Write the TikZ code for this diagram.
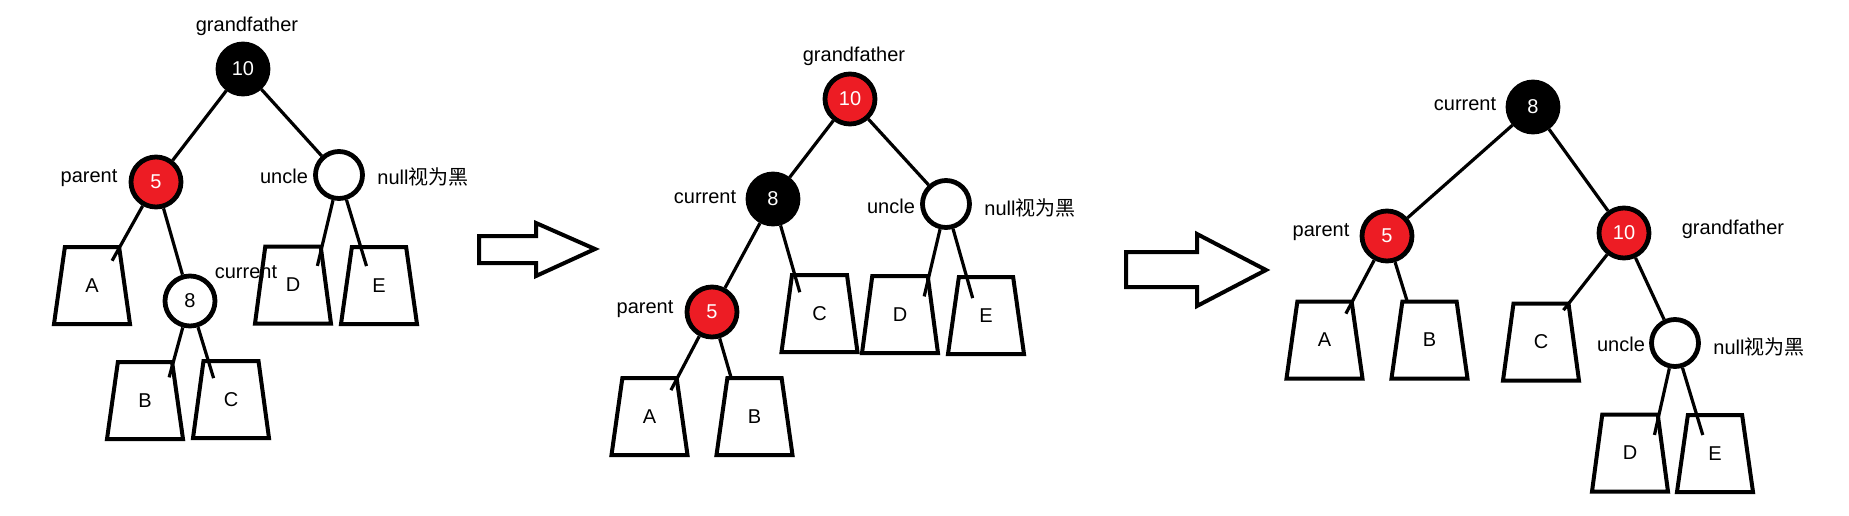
\documentclass[tikz,border=0pt]{standalone}
\usepackage{fontspec}
\setmainfont{Liberation Sans}
\newfontfamily\cjk{Noto Sans CJK SC}
\usepackage{tikz}
\usetikzlibrary{shapes.geometric}
\definecolor{nodered}{RGB}{237,28,36}

\begin{document}
\begin{tikzpicture}[x=0.5pt, y=-0.5pt, font=\fontsize{10}{12}\selectfont,
    rbnode/.style={circle, draw=black, line width=2.4pt, minimum size=25pt, inner sep=0pt},
    blacknode/.style={rbnode, fill=black, text=white},
    rednode/.style={rbnode, fill=nodered, text=white},
    whitenode/.style={rbnode, fill=white},
    nilnode/.style={rbnode, fill=white, minimum size=23.5pt},
    subtree/.style={trapezium, draw, line width=2pt, trapezium angle=79,
      trapezium stretches=true, minimum width=38pt, minimum height=38.5pt, inner sep=0pt},
    edge/.style={line width=1.6pt},
    lbl/.style={inner sep=0pt}]
            \useasboundingbox (0,0) rectangle (1849,515);
            % First tree: current is the right child of parent
            \node[blacknode] (gf1) at (243,69) {10};
            \node[rednode] (par1) at (156,182) {5};
            \node[nilnode] (unc1) at (339,175) {};
            \node[whitenode] (cur1) at (190,301) {8};
            \node[subtree] (sA1) at (92,285.5) {A};
            \node[subtree] (sB1) at (145,400.5) {B};
            \node[subtree] (sC1) at (231,399.5) {C};
            \node[subtree] (sD1) at (293,285) {D};
            \node[subtree] (sE1) at (379,285.5) {E};
            \node[lbl] (gf1lab) at (247,26) {grandfather};
            \node[lbl] (par1lab) at (89,178) {parent};
            \node[lbl] (unc1lab) at (284,176) {uncle};
            \node[lbl] (nil1lab) at (423,177) {null{\cjk 视为黑}};
            \node[lbl] (cur1lab) at (246,272) {current};
            \draw[edge] (gf1) -- (par1);
            \draw[edge] (gf1) -- (unc1);
            \draw[edge] (par1) -- (cur1);
            \draw[edge, shorten >=-9pt] (par1) -- (sA1.top right corner);
            \draw[edge, shorten >=-9pt] (cur1) -- (sB1.top right corner);
            \draw[edge, shorten >=-10pt] (cur1) -- ([xshift=3pt]sC1.top left corner);
            \draw[edge, shorten >=-11pt] (unc1) -- (sD1.top right corner);
            \draw[edge, shorten >=-11pt] (unc1) -- ([xshift=5pt]sE1.top left corner);
            % First arrow
            \draw[line width=2pt] (479,236) -- (536,236) -- (536,223) -- (595,249)
              -- (536,276) -- (536,263) -- (479,263) -- cycle;
            % Second tree: after rotating left at parent
            \node[rednode] (gf2) at (850,99) {10};
            \node[blacknode] (cur2) at (773,199) {8};
            \node[nilnode] (unc2) at (946,204) {};
            \node[rednode] (par2) at (712,312) {5};
            \node[subtree] (sA2) at (649.5,416.5) {A};
            \node[subtree] (sB2) at (754.5,416.5) {B};
            \node[subtree] (sC2) at (819.5,313.5) {C};
            \node[subtree] (sD2) at (900,314.5) {D};
            \node[subtree] (sE2) at (986,315.5) {E};
            \node[lbl] (gf2lab) at (854,56) {grandfather};
            \node[lbl] (cur2lab) at (705,197) {current};
            \node[lbl] (unc2lab) at (891,206) {uncle};
            \node[lbl] (nil2lab) at (1030,208) {null{\cjk 视为黑}};
            \node[lbl] (par2lab) at (645,309) {parent};
            \draw[edge] (gf2) -- (cur2);
            \draw[edge] (gf2) -- (unc2);
            \draw[edge] (cur2) -- (par2);
            \draw[edge, shorten >=-8pt] (par2) -- (sA2.top right corner);
            \draw[edge, shorten >=-1pt] (par2) -- ([xshift=2.5pt]sB2.top left corner);
            \draw[edge, shorten >=-10pt] (cur2) -- ([xshift=2pt]sC2.top left corner);
            \draw[edge, shorten >=-11.5pt] (unc2) -- (sD2.top right corner);
            \draw[edge, shorten >=-12pt] (unc2) -- ([xshift=4.5pt]sE2.top left corner);
            % Second arrow
            \draw[line width=2pt] (1126,252) -- (1197,252) -- (1197,234) -- (1266,270)
              -- (1197,306) -- (1197,287) -- (1126,287) -- cycle;
            % Third tree: after rotating right at grandfather
            \node[blacknode] (cur3) at (1533,107) {8};
            \node[rednode] (par3) at (1387,236) {5};
            \node[rednode] (gf3) at (1624,233) {10};
            \node[nilnode] (unc3) at (1675,343) {};
            \node[subtree] (sA3) at (1324.5,340) {A};
            \node[subtree] (sB3) at (1429.5,340) {B};
            \node[subtree] (sC3) at (1541,342) {C};
            \node[subtree] (sD3) at (1630,453) {D};
            \node[subtree] (sE3) at (1715,453.5) {E};
            \node[lbl] (cur3lab) at (1465,104) {current};
            \node[lbl] (par3lab) at (1321,232) {parent};
            \node[lbl] (gf3lab) at (1733,229) {grandfather};
            \node[lbl] (unc3lab) at (1621,344) {uncle};
            \node[lbl] (nil3lab) at (1759,347) {null{\cjk 视为黑}};
            \draw[edge] (cur3) -- (par3);
            \draw[edge] (cur3) -- (gf3);
            \draw[edge] (gf3) -- (unc3);
            \draw[edge, shorten >=-8pt] (par3) -- (sA3.top right corner);
            \draw[edge, shorten >=-1pt] (par3) -- ([xshift=3pt]sB3.top left corner);
            \draw[edge, shorten >=-5.5pt] (gf3) -- (sC3.top right corner);
            \draw[edge, shorten >=-11.5pt] (unc3) -- (sD3.top right corner);
            \draw[edge, shorten >=-11.5pt] (unc3) -- ([xshift=5pt]sE3.top left corner);
\end{tikzpicture}
\end{document}
